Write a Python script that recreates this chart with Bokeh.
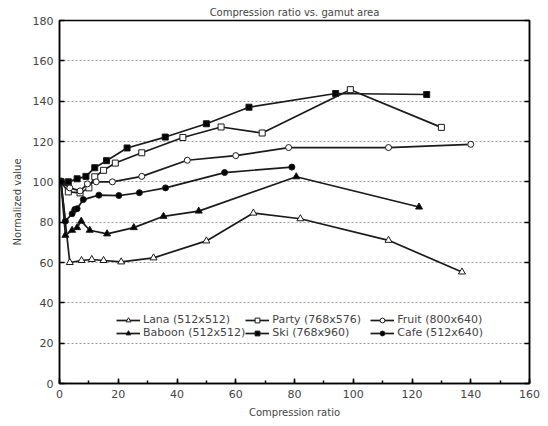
from bokeh.plotting import figure
from bokeh.models import Legend, LegendItem, LinearAxis, FixedTicker, Range1d, CustomJSTickFormatter
from bokeh.embed import file_html
from bokeh.resources import INLINE

# ---- data ----
lana_x = [0.5, 3.5, 7.5, 11, 15, 21, 32, 50, 66, 82, 112, 137]
lana_y = [100, 60, 61, 61.5, 61, 60.3, 62.3, 70.7, 84.5, 81.7, 71, 55.3]

party_x = [0.5, 3, 7, 10, 12, 15, 19, 28, 42, 55, 69, 99, 130]
party_y = [100, 95, 94.5, 97, 102.5, 105.7, 109.3, 114.4, 122, 127.2, 124.2, 145.7, 127]

fruit_x = [0.5, 3.5, 7, 9.5, 12.5, 18, 28, 43.5, 60, 78, 112, 140]
fruit_y = [100, 97, 95.5, 99, 100, 100, 102.7, 110.7, 113, 117, 117, 118.6]

baboon_x = [0.5, 2, 4.3, 6, 7.4, 10.3, 16.2, 25.3, 35.4, 47.4, 80.6, 122.4]
baboon_y = [100, 73.5, 76, 77.3, 80.5, 76, 74.2, 77.3, 82.9, 85.5, 102.5, 87.5]

ski_x = [0.5, 3, 6, 9, 12, 16, 23, 36, 50, 64.5, 94, 125]
ski_y = [100, 100, 101.5, 102.7, 107, 110.5, 116.8, 122.2, 128.8, 137, 143.8, 143.3]

cafe_x = [0.5, 2, 4.3, 5.2, 6, 8.1, 13.4, 20.2, 27.2, 36.1, 56.2, 79.1]
cafe_y = [100, 80.5, 84.2, 86.3, 86.7, 91.2, 93.4, 93.2, 94.6, 97, 104.6, 107.3]

x_ticks = [0, 20, 40, 60, 80, 100, 120, 140, 160]
y_ticks = [0, 20, 40, 60, 80, 100, 120, 140, 160, 180]

FONT = "DejaVu Sans"

p = figure(width=548, height=426, output_backend="svg", toolbar_location=None,
           x_range=Range1d(0, 160), y_range=Range1d(0, 180),
           min_border_left=59, min_border_right=19, min_border_top=20, min_border_bottom=43)

p.title.text = "Compression ratio vs. gamut area"
p.title.align = "center"
p.title.text_font = FONT
p.title.text_font_size = "10px"
p.title.text_font_style = "normal"
p.title.standoff = 5

p.outline_line_color = "black"
p.outline_line_width = 1.5
p.xgrid.grid_line_color = None
p.ygrid.grid_line_color = "#999999"
p.ygrid.grid_line_dash = "2 2"
p.ygrid.ticker = FixedTicker(ticks=y_ticks)

for ax in (p.xaxis[0], p.yaxis[0]):
    ax.axis_line_color = "black"
    ax.axis_line_width = 1.5
    ax.major_tick_in = 5
    ax.major_tick_out = 0
    ax.minor_tick_in = 3
    ax.minor_tick_out = 0
    ax.major_label_text_font = FONT
    ax.major_label_text_font_size = "11px"
    ax.axis_label_text_font = FONT
    ax.axis_label_text_font_size = "10px"
    ax.axis_label_text_font_style = "normal"
    ax.major_tick_line_width = 1.5
    ax.minor_tick_line_width = 1.5

p.xaxis[0].ticker = FixedTicker(ticks=x_ticks, minor_ticks=list(range(0, 161, 10)))
p.yaxis[0].ticker = FixedTicker(ticks=y_ticks, minor_ticks=[])
p.xaxis[0].axis_label = "Compression ratio"
p.yaxis[0].axis_label = "Normalized value"
p.xaxis[0].major_label_standoff = 6
p.yaxis[0].major_label_standoff = 6
p.xaxis[0].axis_label_standoff = 6
p.yaxis[0].axis_label_standoff = 7

ra = LinearAxis(ticker=FixedTicker(ticks=y_ticks, minor_ticks=[]),
                formatter=CustomJSTickFormatter(code="return ''"),
                major_tick_in=5, major_tick_out=0,
                axis_line_color="black", axis_line_width=1.5, major_tick_line_width=1.5)
p.add_layout(ra, "right")

series = [
    ("Lana (512x512)", lana_x, lana_y, "triangle", "white", 7),
    ("Party (768x576)", party_x, party_y, "square", "white", 6),
    ("Fruit (800x640)", fruit_x, fruit_y, "circle", "white", 6),
    ("Baboon (512x512)", baboon_x, baboon_y, "triangle", "black", 7),
    ("Ski (768x960)", ski_x, ski_y, "square", "black", 6),
    ("Cafe (512x640)", cafe_x, cafe_y, "circle", "black", 6),
]

items = {}
for name, xs, ys, mk, fill, sz in series:
    l = p.line(xs, ys, line_color="#1a1a1a", line_width=1.7)
    m = p.scatter(xs, ys, marker=mk, size=sz, fill_color=fill, line_color="#1a1a1a", line_width=1)
    items[name] = LegendItem(label=name, renderers=[l, m])

order = ["Lana (512x512)", "Baboon (512x512)", "Party (768x576)",
         "Ski (768x960)", "Fruit (800x640)", "Cafe (512x640)"]
legend = Legend(items=[items[k] for k in order], location=(57, 44), orientation="vertical", nrows=2,
                label_text_font=FONT, label_text_font_size="11px",
                glyph_width=24, glyph_height=12, label_standoff=3, spacing=0,
                label_height=12, label_width=98, padding=2, margin=0,
                background_fill_color="white", background_fill_alpha=1.0,
                border_line_color=None)
p.add_layout(legend, "center")

open("out.html", "w").write(file_html(p, INLINE))
